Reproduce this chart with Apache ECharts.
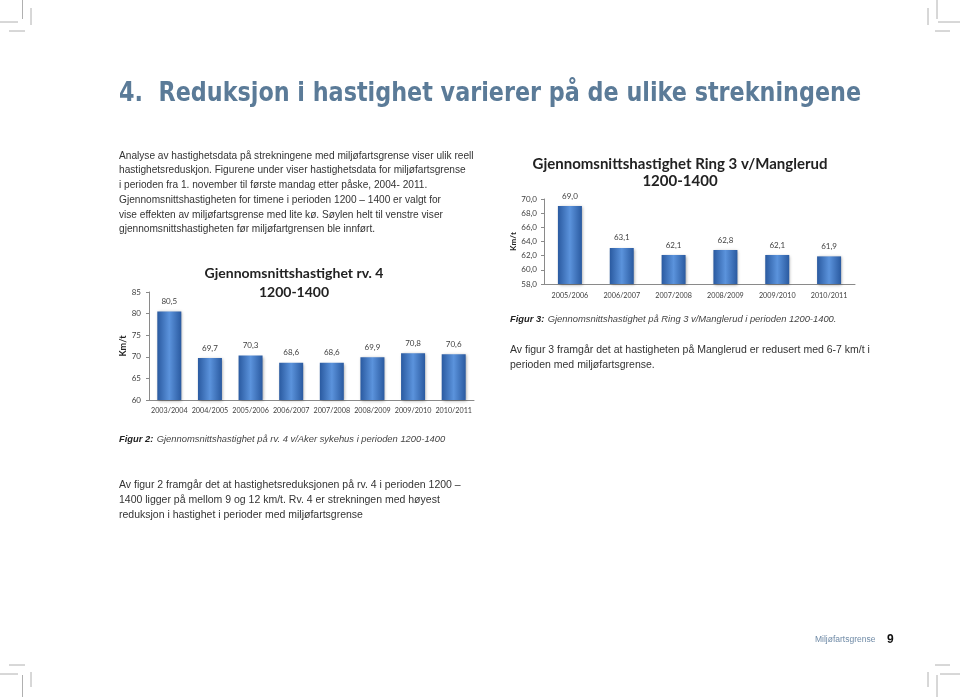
<!DOCTYPE html>
<html><head><meta charset="utf-8">
<script src="https://cdn.jsdelivr.net/npm/echarts@6/dist/echarts.min.js"></script>
<style>html,body{margin:0;padding:0;background:#fff}#c{width:960px;height:697px}</style>
</head><body><div id="c"></div>
<script>
// Figur 2 data
const cats1 = ['2003/2004','2004/2005','2005/2006','2006/2007','2007/2008','2008/2009','2009/2010','2010/2011'];
const vals1 = [80.5, 69.7, 70.3, 68.6, 68.6, 69.9, 70.8, 70.6];
// Figur 3 data
const cats2 = ['2005/2006','2006/2007','2007/2008','2008/2009','2009/2010','2010/2011'];
const vals2 = [69.0, 63.1, 62.1, 62.8, 62.1, 61.9];

const title1 = ['Gjennomsnittshastighet rv. 4', '1200-1400'];
const title2 = ['Gjennomsnittshastighet Ring 3 v/Manglerud', '1200-1400'];

const heading = '4.  Reduksjon i hastighet varierer på de ulike strekningene';
const para1 = [
 'Analyse av hastighetsdata på strekningene med miljøfartsgrense viser ulik reell',
 'hastighetsreduskjon. Figurene under viser hastighetsdata for miljøfartsgrense',
 'i perioden fra 1. november til første mandag etter påske, 2004- 2011.',
 'Gjennomsnittshastigheten for timene i perioden 1200 – 1400 er valgt for',
 'vise effekten av miljøfartsgrense med lite kø. Søylen helt til venstre viser',
 'gjennomsnittshastigheten før miljøfartgrensen ble innført.'
];
const para2 = [
 'Av figur 3 framgår det at hastigheten på Manglerud er redusert med 6-7 km/t i',
 'perioden med miljøfartsgrense.'
];
const para3 = [
 'Av figur 2 framgår det at hastighetsreduksjonen på rv. 4 i perioden 1200 –',
 '1400 ligger på mellom 9 og 12 km/t. Rv. 4 er strekningen med høyest',
 'reduksjon i hastighet i perioder med miljøfartsgrense'
];

const bodyFont = '"Liberation Sans", Arial, sans-serif';
const chartFont = 'Lato, "Open Sans", sans-serif';

const barColor = new echarts.graphic.LinearGradient(0,0,1,0,[
  {offset:0,color:'#2a5aa0'},{offset:0.5,color:'#5b93dc'},{offset:1,color:'#2a5aa0'}]);

function txt(x,y,text,style,extra){
  return Object.assign({type:'text',x:x,y:y,style:Object.assign({text:text,font:'10.5px '+bodyFont,fill:'#333',textVerticalAlign:'middle'},style||{})},extra||{});
}
const g = [];
g.push(txt(119,94,heading,{font:'bold 27px "DejaVu Sans Condensed", sans-serif',fill:'#5b7b98'},{scaleX:0.918}));
para1.forEach((l,i)=>g.push(txt(119,156+i*14.7,l,{font:'10.15px '+bodyFont})));
const capRich = {b:{font:'italic bold 9.4px '+bodyFont,fill:'#222'},i:{font:'italic 9.4px '+bodyFont,fill:'#444'}};
g.push({type:'text',x:510,y:319,style:{text:'{b|Figur 3:} {i|Gjennomsnittshastighet på Ring 3 v/Manglerud i perioden 1200-1400.}',textVerticalAlign:'middle',rich:capRich}});
para2.forEach((l,i)=>g.push(txt(510,350+i*15,l)));
g.push({type:'text',x:119,y:439,style:{text:'{b|Figur 2:} {i|Gjennomsnittshastighet på rv. 4 v/Aker sykehus i perioden 1200-1400}',textVerticalAlign:'middle',rich:capRich}});
para3.forEach((l,i)=>g.push(txt(119,485+i*15,l)));
// chart titles
g.push({type:'text',x:294,y:273,style:{text:title1[0],font:'bold 14px '+chartFont,fill:'#222',textAlign:'center',textVerticalAlign:'middle'}});
g.push({type:'text',x:294,y:292,style:{text:title1[1],font:'bold 14px '+chartFont,fill:'#222',textAlign:'center',textVerticalAlign:'middle'}});
g.push({type:'text',x:680,y:164,style:{text:title2[0],font:'bold 15px '+chartFont,fill:'#222',textAlign:'center',textVerticalAlign:'middle'}});
g.push({type:'text',x:680,y:181,style:{text:title2[1],font:'bold 15px '+chartFont,fill:'#222',textAlign:'center',textVerticalAlign:'middle'}});
// footer
g.push(txt(815,640,'Miljøfartsgrense',{font:'8.5px '+bodyFont,fill:'#6f8aa6'}));
g.push(txt(887,640,'9',{font:'bold 12px '+bodyFont,fill:'#111'}));
// crop marks
const marks = [
 [22.5,0,22.5,19],[31,8,31,25],[0,22,18,22],[9,31,25,31],
 [937,0,937,19],[928,8,928,25],[938,22,960,22],[935,31,950,31],
 [935,665,950,665],[940,674,960,674],[928,672,928,687],[937,675,937,697],
 [9,665,25,665],[0,674,18,674],[31,672,31,687],[22.5,675,22.5,697]
];
marks.forEach(m=>g.push({type:'line',shape:{x1:m[0],y1:m[1],x2:m[2],y2:m[3]},style:{stroke:'#b0b0b0',lineWidth:1}}));

const axisLabel = {fontFamily:chartFont,fontSize:7.2,color:'#404040'};
const option = {
  animation:false,
  grid:[
    {left:149,right:486,top:292,bottom:297},
    {left:544,right:105,top:199,bottom:413}
  ],
  xAxis:[
    {gridIndex:0,type:'category',data:cats1,axisLine:{lineStyle:{color:'#8a8a8a'}},axisTick:{show:false},axisLabel:Object.assign({margin:7,interval:0},axisLabel)},
    {gridIndex:1,type:'category',data:cats2,axisLine:{lineStyle:{color:'#8a8a8a'}},axisTick:{show:false},axisLabel:Object.assign({margin:8,interval:0},axisLabel)}
  ],
  yAxis:[
    {gridIndex:0,type:'value',min:60,max:85,interval:5,splitLine:{show:false},
     axisLine:{show:true,lineStyle:{color:'#8a8a8a'}},axisTick:{show:true,length:3,lineStyle:{color:'#8a8a8a'}},
     axisLabel:Object.assign({margin:8},axisLabel,{fontSize:8}),
     name:'Km/t',nameLocation:'middle',nameGap:21,nameRotate:90,nameTextStyle:{fontFamily:chartFont,fontWeight:'bold',fontSize:9,color:'#222'}},
    {gridIndex:1,type:'value',min:58,max:70,interval:2,splitLine:{show:false},
     axisLine:{show:true,lineStyle:{color:'#8a8a8a'}},axisTick:{show:true,length:3,lineStyle:{color:'#8a8a8a'}},
     axisLabel:Object.assign({margin:7,formatter:v=>v.toFixed(1).replace('.',',')},axisLabel,{fontSize:8}),
     name:'Km/t',nameLocation:'middle',nameGap:27,nameRotate:90,nameTextStyle:{fontFamily:chartFont,fontWeight:'bold',fontSize:8,color:'#222'}}
  ],
  series:[
    {type:'bar',xAxisIndex:0,yAxisIndex:0,data:vals1,barWidth:24,
     itemStyle:{color:barColor,shadowColor:'rgba(0,0,0,0.35)',shadowBlur:3,shadowOffsetX:1,shadowOffsetY:1},
     label:{show:true,position:'top',distance:6,fontFamily:chartFont,fontSize:8,color:'#404040',formatter:p=>p.value.toFixed(1).replace('.',',')}},
    {type:'bar',xAxisIndex:1,yAxisIndex:1,data:vals2,barWidth:24,
     itemStyle:{color:barColor,shadowColor:'rgba(0,0,0,0.35)',shadowBlur:3,shadowOffsetX:1,shadowOffsetY:1},
     label:{show:true,position:'top',distance:6,fontFamily:chartFont,fontSize:8,color:'#404040',formatter:p=>p.value.toFixed(1).replace('.',',')}}
  ],
  graphic:g
};
const chart = echarts.init(document.getElementById('c'));
chart.setOption(option);
</script>
</body></html>
